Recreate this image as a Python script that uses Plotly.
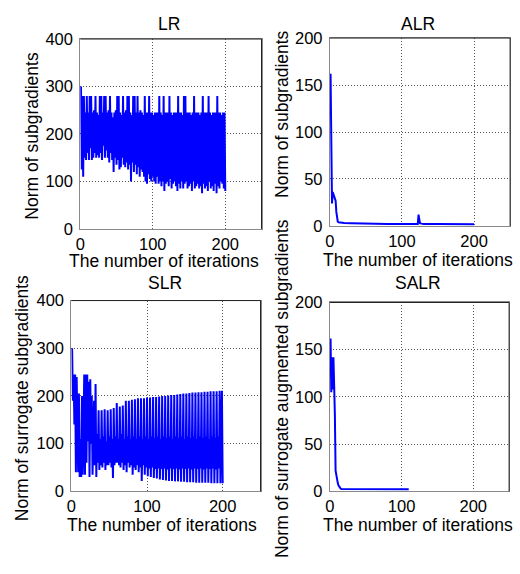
import plotly.graph_objects as go

# ---- Norm of (surrogate) subgradients per iteration ----
# LR: Lagrangian relaxation, one value per iteration 1..200
lr_norm = [
    300, 125, 280, 110, 280, 150, 245, 145, 280, 160, 245, 145, 280, 170, 280, 145, 245, 150, 250, 160,
    280, 150, 245, 155, 240, 150, 280, 160, 280, 145, 245, 175, 280, 150, 280, 165, 245, 150, 250, 140,
    280, 160, 245, 145, 235, 120, 245, 150, 250, 135, 280, 145, 280, 125, 245, 130, 240, 150, 280, 135,
    245, 130, 250, 140, 280, 125, 280, 135, 245, 100, 240, 140, 280, 120, 280, 135, 245, 115, 280, 130,
    245, 110, 250, 125, 245, 120, 240, 110, 280, 100, 245, 95, 245, 115, 280, 105, 245, 100, 245, 110,
    240, 100, 245, 95, 245, 110, 245, 95, 280, 100, 245, 90, 240, 100, 280, 80, 245, 95, 245, 100,
    245, 90, 280, 105, 245, 85, 240, 95, 245, 100, 245, 90, 245, 80, 280, 95, 245, 85, 245, 100,
    240, 85, 280, 95, 280, 100, 245, 85, 245, 90, 245, 95, 240, 80, 245, 100, 280, 85, 245, 90,
    245, 95, 245, 85, 240, 90, 245, 75, 280, 95, 245, 85, 245, 90, 245, 80, 280, 100, 245, 85,
    240, 90, 245, 80, 245, 95, 245, 75, 280, 90, 245, 85, 245, 100, 240, 95, 245, 85, 245, 80,
]

# SLR: surrogate Lagrangian relaxation, one value per iteration 1..200
slr_norm = [
    300, 190, 245, 140, 245, 40, 240, 100, 40, 205, 30, 110, 30, 200, 35, 110, 245, 35, 245, 60,
    245, 105, 230, 30, 235, 100, 200, 35, 115, 190, 55, 225, 30, 120, 60,
    170, 45, 110, 55, 170, 50, 115, 60, 172, 45, 105, 55, 170, 55, 115, 60,
    172, 50, 110, 28, 175, 55, 115, 60, 185, 60, 110, 55, 178, 50, 120, 60,
    180, 45, 110, 55, 190, 40, 115, 60, 190, 50, 110, 55, 192, 35, 115, 50,
    193, 45, 110, 55, 195, 40, 115, 50, 195, 22, 110, 55, 195, 35, 115, 50,
    197, 32, 110, 48, 197, 30, 115, 50, 198, 28, 112, 47, 198, 27, 115, 48,
    199, 25, 110, 47, 200, 24, 115, 48, 200, 23, 112, 46, 201, 22, 115, 48,
    202, 22, 110, 47, 202, 21, 115, 48, 203, 21, 112, 46, 204, 20, 115, 48,
    205, 20, 110, 47, 205, 19, 115, 48, 206, 19, 112, 46, 207, 19, 115, 48,
    207, 18, 110, 47, 208, 18, 115, 48, 208, 18, 112, 46, 209, 18, 115, 48,
    209, 18, 110, 47, 210, 17, 115, 48, 210, 17, 112, 46, 210, 17, 115, 48,
    211, 17, 115, 211, 17,
]

# ALR: augmented Lagrangian relaxation (sampled iterations)
alr_iter = [1, 2, 3, 4, 5, 6, 7, 8, 9, 10, 11, 12, 15, 20, 30, 35, 40, 60, 74, 80,
            100, 120, 122, 123, 124, 125, 127, 130, 150, 175, 180, 200]
alr_norm = [162, 105, 24, 36, 33, 31, 28, 27, 15, 6, 4.5, 4, 3.5, 3.2, 3, 3, 2.6, 2.5, 2.3, 2.2,
            2, 2, 2, 12, 5, 3, 2.5, 2.2, 2, 2, 1.8, 1.8]

# SALR: surrogate augmented Lagrangian relaxation (sampled iterations)
salr_iter = [1, 2, 3, 4, 5, 6, 7, 8, 9, 10, 11, 12, 13, 14, 15, 16, 20, 30, 50, 55, 80, 100, 110]
salr_norm = [162, 105, 142, 108, 142, 118, 82, 22, 16, 12, 9, 6.5, 5, 4, 3, 2.5, 2.5, 2.5, 2.4,
             2.2, 2.2, 2.2, 2.2]

iterations = list(range(1, len(lr_norm) + 1))

x_ticks = [0, 100, 200]
y_ticks_left = [0, 100, 200, 300, 400]
y_ticks_right = [0, 50, 100, 150, 200]

titles = ["LR", "ALR", "SLR", "SALR"]
x_label = "The number of iterations"
y_labels = ["Norm of subgradients", "Norm of subgradients",
            "Norm of surrogate subgradients", "Norm of surrogate augmented subgradients"]

# ---- page geometry (pixels) ----
W, H = 520, 574
FONT = "Liberation Sans, Arial, Helvetica, sans-serif"
BLUE = "#0000FF"
TICK_SIZE = 16.5
LABEL_SIZE = 17.5

# axes boxes: (left, right, top, bottom) in px
boxes = [
    (76, 259, 31, 227),
    (328, 510, 30, 224),
    (67, 258, 301, 498),
    (328, 509, 303, 498),
]


def px_x(p):
    return p / W


def px_y(p):
    return 1 - p / H


fig = go.Figure()

series = [
    (iterations, lr_norm),
    (alr_iter, alr_norm),
    (iterations, slr_norm),
    (salr_iter, salr_norm),
]
for i, (xs, ys) in enumerate(series):
    suffix = "" if i == 0 else str(i + 1)
    fig.add_trace(go.Scatter(
        x=xs, y=ys, mode="lines",
        line=dict(color=BLUE, width=2),
        xaxis="x" + suffix, yaxis="y" + suffix,
        showlegend=False, hoverinfo="skip",
    ))

layout = dict(
    width=W, height=H, autosize=False,
    margin=dict(l=0, r=0, t=0, b=0, pad=0),
    paper_bgcolor="white", plot_bgcolor="white",
    font=dict(family=FONT, size=TICK_SIZE, color="black"),
    showlegend=False,
)

for i, (l, r, t, b) in enumerate(boxes):
    suffix = "" if i == 0 else str(i + 1)
    right_col = i in (1, 3)
    layout["xaxis" + suffix] = dict(
        domain=[px_x(l), px_x(r)], anchor="y" + suffix,
        range=[0, 250], tickvals=x_ticks, ticks="",
        showgrid=True, gridcolor="#555", griddash="1px,2px", gridwidth=1,
        zeroline=False, showline=True, linecolor="#8a8a8a", linewidth=1, mirror=True,
        tickfont=dict(family=FONT, size=TICK_SIZE), ticklabelstandoff=0,
    )
    layout["yaxis" + suffix] = dict(
        domain=[px_y(b), px_y(t)], anchor="x" + suffix,
        range=[0, 200] if right_col else [0, 400],
        tickvals=y_ticks_right if right_col else y_ticks_left, ticks="",
        showgrid=True, gridcolor="#555", griddash="1px,2px", gridwidth=1,
        zeroline=False, showline=True, linecolor="#8a8a8a", linewidth=1, mirror=True,
        tickfont=dict(family=FONT, size=TICK_SIZE), ticklabelstandoff=3,
    )

fig.update_layout(**layout)

# darker top and right frame edges
for i in range(4):
    suffix = "" if i == 0 else str(i + 1)
    xr, yr = "x" + suffix + " domain", "y" + suffix + " domain"
    fig.add_shape(type="line", xref=xr, yref=yr, x0=0, x1=1, y0=1, y1=1,
                  line=dict(color="#222", width=1))
    fig.add_shape(type="line", xref=xr, yref=yr, x0=1, x1=1, y0=0, y1=1,
                  line=dict(color="#222", width=1))

# titles, axis labels
title_pos = [(166, 16), (417, 16), (162, 283), (417, 283)]
xlabel_pos = [(161, 260), (417, 259), (159, 533), (417, 533)]
ylabel_pos = [(27, 131), (279, 108), (18, 402), (279, 392)]

for i in range(4):
    tx, ty = title_pos[i]
    fig.add_annotation(text=titles[i], x=px_x(tx), y=px_y(ty), xref="paper", yref="paper",
                       showarrow=False, xanchor="center", yanchor="middle",
                       font=dict(family=FONT, size=LABEL_SIZE))
    lx, ly = xlabel_pos[i]
    fig.add_annotation(text=x_label, x=px_x(lx), y=px_y(ly), xref="paper", yref="paper",
                       showarrow=False, xanchor="center", yanchor="middle",
                       font=dict(family=FONT, size=LABEL_SIZE))
    vx, vy = ylabel_pos[i]
    fig.add_annotation(text=y_labels[i], x=px_x(vx), y=px_y(vy), xref="paper", yref="paper",
                       showarrow=False, xanchor="center", yanchor="middle", textangle=-90,
                       font=dict(family=FONT, size=LABEL_SIZE))

fig.write_html("out.html")
